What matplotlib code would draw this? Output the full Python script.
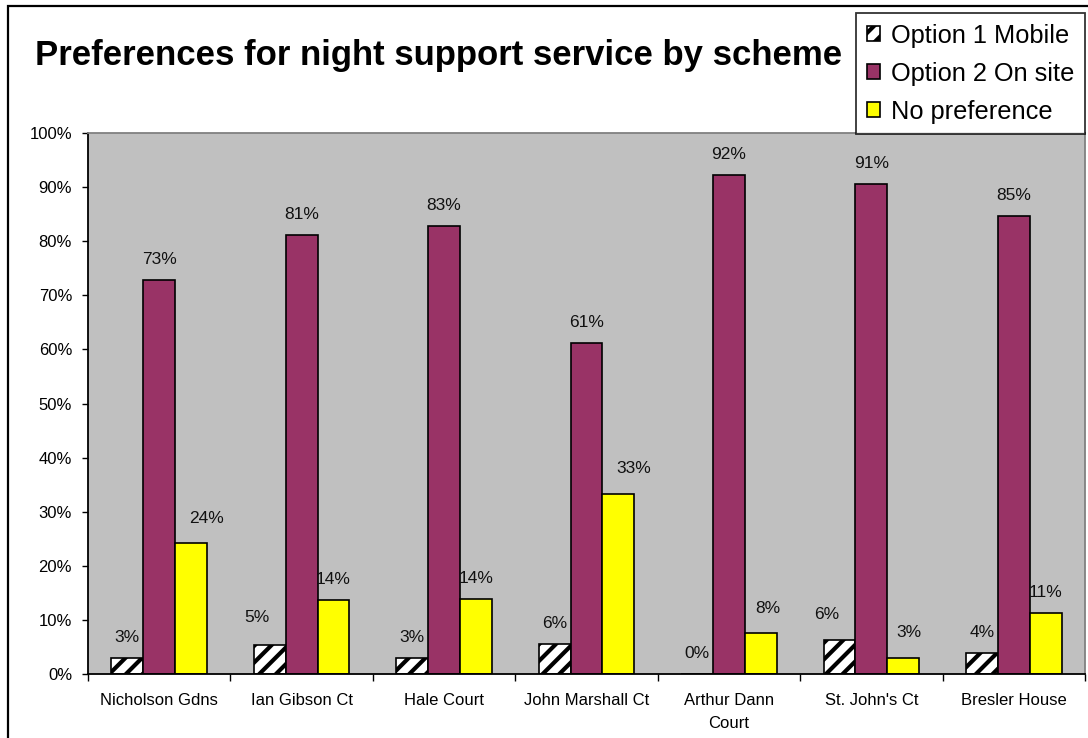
import matplotlib.pyplot as plt
import numpy as np
from matplotlib.patches import Rectangle

schemes = [
    "Nicholson Gdns",
    "Ian Gibson Ct",
    "Hale Court",
    "John Marshall Ct",
    "Arthur Dann\nCourt",
    "St. John's Ct",
    "Bresler House",
]
mobile = [2.9, 5.3, 3.0, 5.6, 0.0, 6.3, 3.8]
on_site = [72.9, 81.1, 82.9, 61.2, 92.3, 90.6, 84.7]
no_pref = [24.2, 13.6, 13.8, 33.2, 7.6, 3.0, 11.2]
series_names = ["Option 1 Mobile", "Option 2 On site", "No preference"]

# a few labels sit a little off-centre (dx, dy in pixels)
nudges = {
    (0, 1): (-13, 7),
    (0, 5): (-13, 5),
    (2, 0): (15, 4),
    (2, 3): (15, 5),
    (2, 4): (7, 4),
    (2, 5): (6, 5),
}

plt.rcParams["font.family"] = ["Liberation Sans", "DejaVu Sans"]
plt.rcParams["hatch.linewidth"] = 3.0

fig = plt.figure(figsize=(10.88, 7.38), dpi=100)
ax = fig.add_axes([88 / 1088, 1 - 674 / 738, 997 / 1088, 541 / 738])
ax.set_facecolor("#C0C0C0")

x = np.arange(len(schemes))
w = 0.224
styles = [
    dict(color="white", hatch="//"),
    dict(color="#993366"),
    dict(color="#FFFF00"),
]
for k, (vals, st, name) in enumerate(zip([mobile, on_site, no_pref], styles, series_names)):
    pos = x + (k - 1) * w
    ax.bar(pos, vals, w, edgecolor="black", linewidth=1.2, label=name, **st)
    for i, v in enumerate(vals):
        dx, dy = nudges.get((k, i), (0, 0))
        ax.annotate(f"{v:.0f}%", (pos[i], v), xytext=(dx, 20.5 + dy),
                    textcoords="offset pixels", ha="center", va="center",
                    fontsize=12.5, color="#111111")

ax.set_xlim(-0.5, len(schemes) - 0.5)
ax.set_ylim(0, 100)
ax.set_yticks(np.arange(0, 101, 10))
ax.set_yticklabels([f"{t}%" for t in range(0, 101, 10)])
ax.tick_params(axis="y", length=4.5, width=1, pad=7, labelsize=12)

ax.set_xticks(np.arange(len(schemes) + 1) - 0.5)
ax.set_xticklabels([])
ax.tick_params(axis="x", which="major", length=5, width=1)
ax.set_xticks(x, minor=True)
ax.set_xticklabels(schemes, minor=True, fontsize=12, linespacing=1.65)
ax.tick_params(axis="x", which="minor", length=0, pad=14)

for s in ["left", "bottom"]:
    ax.spines[s].set_color("black")
    ax.spines[s].set_linewidth(1.3)
for s in ["top", "right"]:
    ax.spines[s].set_color("#808080")
    ax.spines[s].set_linewidth(1.3)

fig.text(35 / 1088, 1 - 55 / 738, "Preferences for night support service by scheme",
         fontsize=25, fontweight="bold", ha="left", va="center")

leg = fig.legend(loc="upper right", bbox_to_anchor=(1085 / 1088, 1 - 13 / 738),
                 fontsize=18.3, frameon=True, fancybox=False, borderaxespad=0,
                 handlelength=0.5, handleheight=0.5, handletextpad=0.45,
                 labelspacing=0.55, borderpad=0.42)
leg.get_frame().set_edgecolor("black")
leg.get_frame().set_linewidth(1.3)

fig.patches.append(Rectangle((8 / 1088, -0.1), 1.2, 1.1 - 6 / 738,
                             transform=fig.transFigure, fill=False,
                             edgecolor="black", linewidth=1.6))

fig.savefig("out.png", dpi=100)
